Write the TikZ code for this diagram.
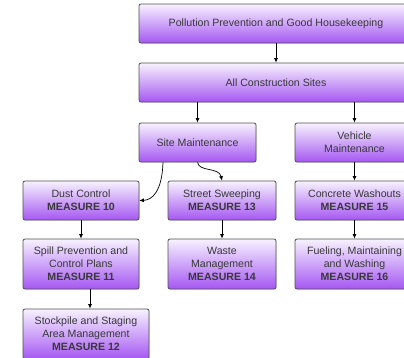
\documentclass[tikz,border=0pt]{standalone}
\usepackage{fontspec}
\setmainfont{Liberation Sans}
\usetikzlibrary{arrows.meta,positioning,shadows}
\definecolor{boxtop}{HTML}{F7F2FF}
\definecolor{boxbot}{HTML}{A557F2}
\definecolor{boxline}{HTML}{505050}

\begin{document}
\begin{tikzpicture}[
		x=1pt, y=-1pt,
		>={Latex[length=4.5pt,width=4pt]},
		every node/.style={font=\fontsize{10.6}{13.2}\selectfont, text=black!78},
		% Stijlen
		measure/.style={draw=boxline, line width=0.8pt, rounded corners=2pt,
			top color=boxtop, bottom color=boxbot, align=center, inner sep=1pt,
			drop shadow={shadow xshift=0.7pt, shadow yshift=-0.7pt, opacity=0.3}},
		link/.style={->, line width=0.7pt, black}
	]

	% --- Kader ---
	\useasboundingbox (0,0) rectangle (404,357);
	\clip (0,0) rectangle (404,357);

	% --- Parameters ---
	\def\rowH{39}   % Hoogte enkele rij
	\def\tallH{50}  % Hoogte rij met drie regels

	% --- 1. BOVENSTE NIVEAUS ---
	\node[measure, minimum width=274, minimum height=\rowH] (ppgh) at (276,23.5)
		{Pollution Prevention and Good Housekeeping};
	\node[measure, minimum width=274, minimum height=\rowH] (allsites) at (276,82.5)
		{All Construction Sites};

	% --- 2. ONDERHOUD ---
	\node[measure, minimum width=117, minimum height=\rowH] (site) at (197.5,142.5)
		{Site Maintenance};
	\node[measure, minimum width=119, minimum height=\rowH] (vehicle) at (354.5,142.5)
		{Vehicle\\Maintenance};

	% --- 3. MAATREGELEN ---
	\node[measure, minimum width=116, minimum height=\rowH] (dust) at (81,200.5)
		{Dust Control\\\textbf{MEASURE 10}};
	\node[measure, minimum width=108, minimum height=\rowH] (street) at (222,200.5)
		{Street Sweeping\\\textbf{MEASURE 13}};
	\node[measure, minimum width=119, minimum height=\rowH] (concrete) at (354.5,200.5)
		{Concrete Washouts\\\textbf{MEASURE 15}};

	\node[measure, minimum width=116, minimum height=\tallH] (spill) at (81,264)
		{Spill Prevention and\\Control Plans\\\textbf{MEASURE 11}};
	\node[measure, minimum width=108, minimum height=\tallH] (waste) at (222,264)
		{Waste\\Management\\\textbf{MEASURE 14}};
	\node[measure, minimum width=119, minimum height=\tallH] (fueling) at (354.5,264)
		{Fueling, Maintaining\\and Washing\\\textbf{MEASURE 16}};

	\node[measure, minimum width=126, minimum height=\tallH] (stock) at (86,334)
		{Stockpile and Staging\\Area Management\\\textbf{MEASURE 12}};

	% --- 4. VERBINDINGEN ---
	\draw[link] (ppgh) -- (allsites);
	\draw[link] (allsites.south -| site.north) -- (site.north);
	\draw[link] (allsites.south -| vehicle.north) -- (vehicle.north);

	% Gebogen pijlen vanuit Site Maintenance
	\draw[link] ([xshift=-34.5pt]site.south) .. controls (162,192) and (152,200) .. (dust.east);
	\draw[link] (site.south) .. controls (199,172) and (219,167) .. (street.north);

	\draw[link] (vehicle) -- (concrete);
	\draw[link] (dust) -- (spill);
	\draw[link] (street) -- (waste);
	\draw[link] (concrete) -- (fueling);
	\draw[link] ([xshift=9pt]spill.south) -- ([xshift=4pt]stock.north);

\end{tikzpicture}
\end{document}
